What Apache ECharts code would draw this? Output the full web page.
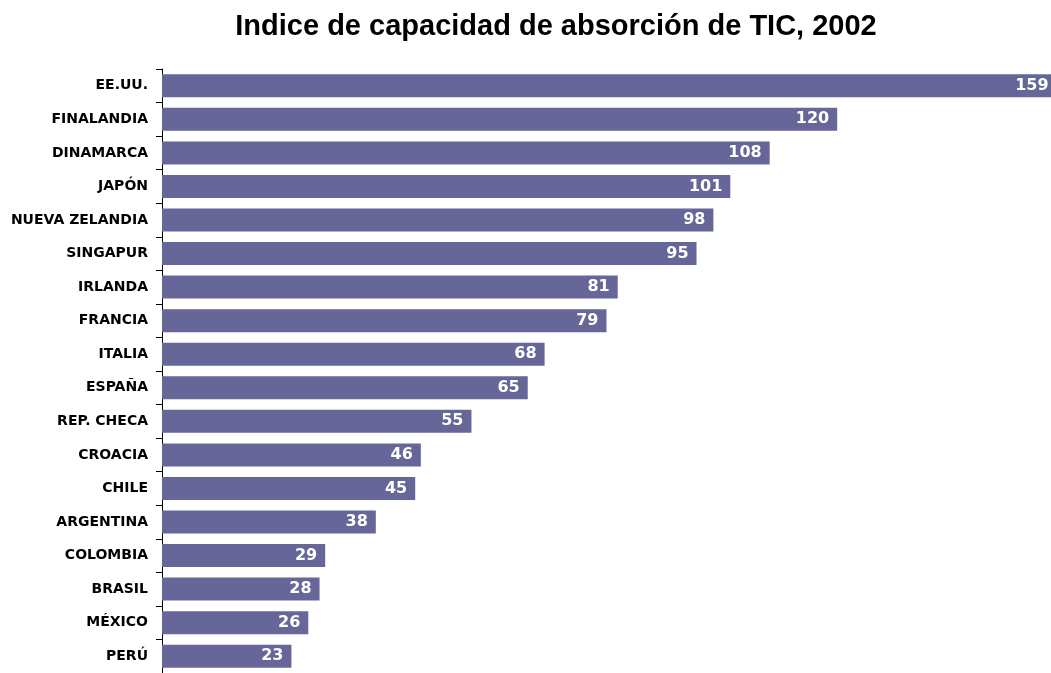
<!DOCTYPE html>
<html>
<head>
<meta charset="utf-8">
<style>
    html, body { margin: 0; padding: 0; background: #fff; }
    #chart { width: 1051px; height: 673px; }
</style>
</head>
<body>
<div id="chart"></div>
<script src="https://cdn.jsdelivr.net/npm/echarts@6/dist/echarts.min.js"></script>
<script>
// Indice de capacidad de absorción de TIC, 2002
var paises = ['EE.UU.', 'FINALANDIA', 'DINAMARCA', 'JAPÓN', 'NUEVA ZELANDIA', 'SINGAPUR',
    'IRLANDA', 'FRANCIA', 'ITALIA', 'ESPAÑA', 'REP. CHECA', 'CROACIA', 'CHILE',
    'ARGENTINA', 'COLOMBIA', 'BRASIL', 'MÉXICO', 'PERÚ'];
var indice = [159, 120, 108, 101, 98, 95, 81, 79, 68, 65, 55, 46, 45, 38, 29, 28, 26, 23];

var chart = echarts.init(document.getElementById('chart'));

var option = {
    animation: false,
    title: {
        text: 'Indice de capacidad de absorción de TIC, 2002',
        left: 551,
        textAlign: 'center',
        top: 7,
        textStyle: {
            fontFamily: 'Liberation Sans, Arial, sans-serif',
            fontWeight: 'bold',
            fontSize: 29,
            color: '#000'
        }
    },
    grid: {
        left: 162,
        top: 69,
        right: 0,
        height: 608
    },
    xAxis: {
        type: 'value',
        min: 0,
        max: 158,   // la barra de EE.UU. se sale un poco del lienzo, como en el original
        show: false
    },
    yAxis: {
        type: 'category',
        data: paises,
        inverse: true,
        axisLine: { lineStyle: { color: '#000', width: 1 } },
        axisTick: { show: true, length: 6, inside: false, lineStyle: { color: '#000' } },
        axisLabel: {
            margin: 14,
            color: '#000',
            fontFamily: 'DejaVu Sans, Verdana, sans-serif',
            fontWeight: 'bold',
            fontSize: 14
        }
    },
    series: [{
        type: 'bar',
        data: indice,
        barWidth: 23,
        clip: false,
        itemStyle: { color: '#666699' },
        label: {
            show: true,
            position: 'insideRight',
            distance: 8,
            color: '#fff',
            fontFamily: 'DejaVu Sans, Verdana, sans-serif',
            fontWeight: 'bold',
            fontSize: 16
        }
    }]
};

chart.setOption(option);
</script>
</body>
</html>
